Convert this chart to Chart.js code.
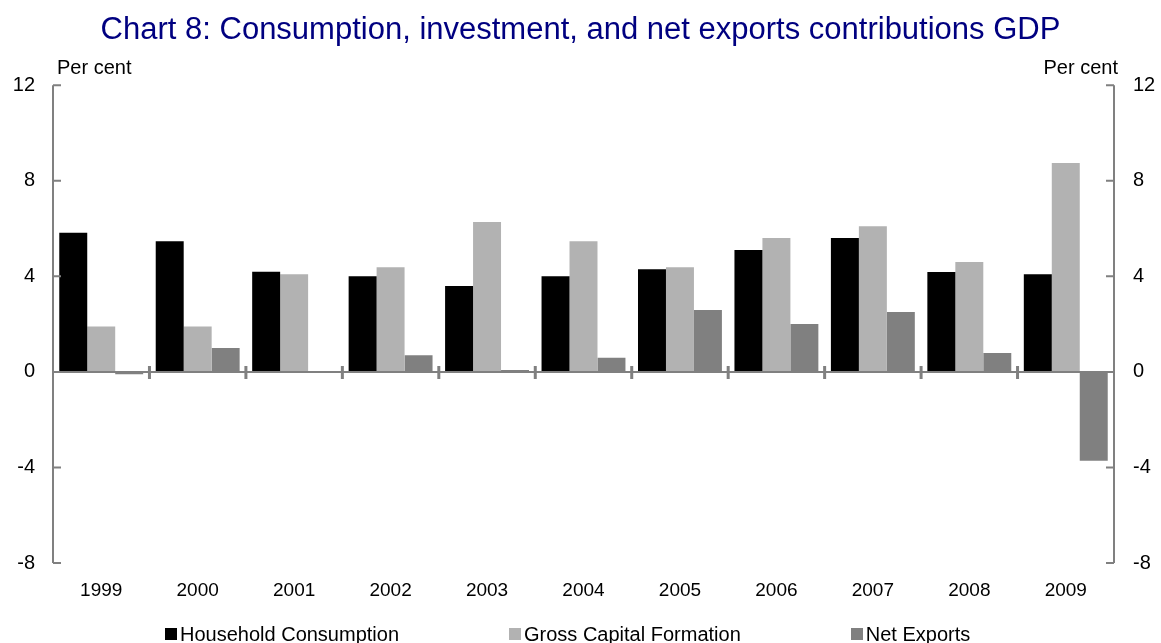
<!DOCTYPE html>
<html>
<head>
<meta charset="utf-8">
<script src="https://cdn.jsdelivr.net/npm/chart.js@4/dist/chart.umd.min.js"></script>
<style>
  html, body { margin: 0; padding: 0; background: #fff; }
  #caja { position: relative; width: 1161px; height: 643px; }
  #leyenda {
    position: absolute; left: 165px; top: 624px;
    display: flex; gap: 110px;
    font: 20px 'Liberation Sans', Arial, sans-serif; color: #000; line-height: 20px;
  }
  #leyenda .item { display: flex; align-items: center; white-space: nowrap; }
  #leyenda .cuadro { width: 12px; height: 12px; margin-right: 3px; }
</style>
</head>
<body>
<div id="caja">
  <canvas id="grafica" width="1161" height="643"></canvas>
  <div id="leyenda"></div>
</div>
<script>
const anios = ['1999', '2000', '2001', '2002', '2003', '2004', '2005', '2006', '2007', '2008', '2009'];
const consumo = [5.82, 5.47, 4.19, 4.0, 3.59, 4.0, 4.3, 5.1, 5.6, 4.18, 4.09];
const inversion = [1.9, 1.9, 4.09, 4.38, 6.27, 5.47, 4.38, 5.6, 6.1, 4.6, 8.74];
const exportNetas = [-0.1, 1.0, 0.0, 0.7, 0.08, 0.59, 2.59, 2.0, 2.51, 0.79, -3.72];
const ticksY = [-8, -4, 0, 4, 8, 12];

const GRIS_EJE = '#808080';
Chart.defaults.font.family = "'Liberation Sans', Arial, sans-serif";
Chart.defaults.color = '#000';

// Ejes a mano: líneas grises con marcas hacia dentro y línea del cero con marcas por año
const ejes = {
  id: 'ejes',
  afterDatasetsDraw(chart) {
    const { ctx, chartArea: a, scales } = chart;
    const y = scales.y, x = scales.x;
    ctx.save();
    ctx.strokeStyle = GRIS_EJE;
    ctx.lineWidth = 2;
    ctx.beginPath();
    ctx.moveTo(a.left, a.top); ctx.lineTo(a.left, a.bottom);
    ctx.moveTo(a.right, a.top); ctx.lineTo(a.right, a.bottom);
    ticksY.forEach(v => {
      const py = y.getPixelForValue(v);
      ctx.moveTo(a.left, py); ctx.lineTo(a.left + 8, py);
      ctx.moveTo(a.right, py); ctx.lineTo(a.right - 8, py);
    });
    const y0 = y.getPixelForValue(0);
    ctx.moveTo(a.left, y0); ctx.lineTo(a.right, y0);
    ctx.stroke();

    // marcas entre años, algo más gruesas
    ctx.lineWidth = 3;
    ctx.beginPath();
    for (let i = 1; i < anios.length; i++) {
      const px = (x.getPixelForValue(i - 1) + x.getPixelForValue(i)) / 2;
      ctx.moveTo(px, y0 - 6); ctx.lineTo(px, y0 + 7);
    }
    ctx.stroke();

    ctx.fillStyle = '#000';
    ctx.font = "20px 'Liberation Sans', Arial, sans-serif";
    ctx.textBaseline = 'alphabetic';
    ctx.textAlign = 'left';
    ctx.fillText('Per cent', a.left + 4, 74);
    ctx.textAlign = 'right';
    ctx.fillText('Per cent', a.right + 4, 74);
    ctx.restore();
  }
};

const ejeY = (lado, ancho, pad) => ({
  position: lado,
  min: -8, max: 12,
  afterBuildTicks: s => { s.ticks = ticksY.map(v => ({ value: v })); },
  afterFit: s => { s.width = ancho; },
  grid: { display: false, drawTicks: false },
  border: { display: false },
  ticks: { padding: pad, font: { size: 20 } },
});

const grafica = new Chart(document.getElementById('grafica'), {
  type: 'bar',
  data: {
    labels: anios,
    datasets: [
      { label: 'Household Consumption', data: consumo, backgroundColor: '#000000' },
      { label: 'Gross Capital Formation', data: inversion, backgroundColor: '#b2b2b2' },
      { label: 'Net Exports', data: exportNetas, backgroundColor: '#808080' },
    ],
  },
  options: {
    responsive: false,
    animation: false,
    devicePixelRatio: 1,
    layout: { padding: 0 },
    datasets: { bar: { categoryPercentage: 0.87, barPercentage: 1 } },
    plugins: {
      legend: { display: false },
      tooltip: { enabled: false },
      title: {
        display: true,
        text: 'Chart 8: Consumption, investment, and net exports contributions GDP',
        color: '#000080',
        font: { size: 31, weight: 'normal' },
        padding: { top: 12, bottom: 36 },
      },
    },
    scales: {
      x: {
        afterFit: s => { s.height = 80; },
        grid: { display: false, drawTicks: false },
        border: { display: false },
        ticks: { padding: 16, font: { size: 19 } },
      },
      y: ejeY('left', 53, 18),
      y2: ejeY('right', 47, 19),
    },
  },
  plugins: [ejes],
});

// Leyenda en HTML a partir de las series
document.getElementById('leyenda').innerHTML = grafica.data.datasets.map(d =>
  `<div class="item"><span class="cuadro" style="background:${d.backgroundColor}"></span>${d.label}</div>`
).join('');
</script>
</body>
</html>
